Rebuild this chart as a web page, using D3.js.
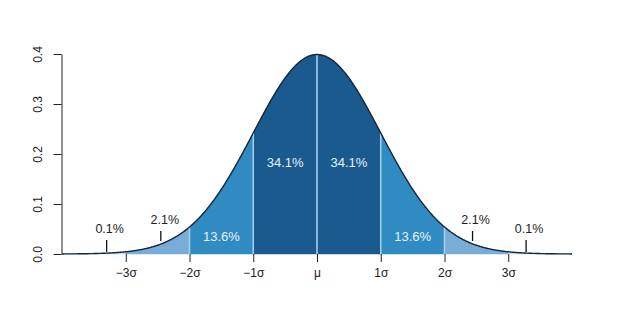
<!DOCTYPE html>
<html><head><meta charset="utf-8">
<script src="https://cdn.jsdelivr.net/npm/d3@7"></script>
<style>body{margin:0;background:#fff}svg{display:block;font-family:"Liberation Sans",Arial,sans-serif}</style>
</head><body>
<svg id="c" width="633" height="314"></svg>
<script>
// ---- data ----
const mean = 0, sd = 1;
const xTicks = [-3, -2, -1, 0, 1, 2, 3];
const xTickLabels = ["\u22123\u03c3", "\u22122\u03c3", "\u22121\u03c3", "\u03bc", "1\u03c3", "2\u03c3", "3\u03c3"];
const yTicks = [0.0, 0.1, 0.2, 0.3, 0.4];
const yTickLabels = ["0.0", "0.1", "0.2", "0.3", "0.4"];
const bandEdges = [-4, -3, -2, -1, 0, 1, 2, 3, 4];
const bandPercents = ["0.1%", "2.1%", "13.6%", "34.1%", "34.1%", "13.6%", "2.1%", "0.1%"];
const dividers = [-2, -1, 0, 1, 2];

// ---- style / layout ----
const bandColors = ["#c3dbef", "#79acd6", "#2f8bc1", "#1a5a8e", "#1a5a8e", "#2f8bc1", "#79acd6", "#c3dbef"];
const insideLabel = [false, false, true, true, true, true, false, false];
const pointerX = [-3.3, -2.45, null, null, null, null, 2.44, 3.28];
const pointerTop = [240, 231, null, null, null, null, 231, 240];
const pointerBottom = [252, 241, null, null, null, null, 241, 252];
const labelDx = [3, 4, 0, 0, 0, 0, 3, 3];
const insideY = [0, 0, 236, 162, 162, 236, 0, 0];

const svg = d3.select("#c");
const x = d3.scaleLinear().domain([-4, 4]).range([62, 572]);
const y = d3.scaleLinear().domain([0, 0.4]).range([254, 54]);
const pdf = v => Math.exp(-0.5 * ((v - mean) / sd) ** 2) / (sd * Math.sqrt(2 * Math.PI));

const area = d3.area().x(d => x(d)).y0(y(0)).y1(d => y(pdf(d))).curve(d3.curveLinear);
const line = d3.line().x(d => x(d)).y(d => y(pdf(d)));

const step = 0.01;
for (let i = 0; i < bandEdges.length - 1; i++) {
  const a = bandEdges[i], b = bandEdges[i + 1];
  const pts = d3.range(a, b, step).concat([b]);
  svg.append("path").attr("d", area(pts)).attr("fill", bandColors[i]).attr("stroke", bandColors[i]).attr("stroke-width", 0.5);
}
// dividers
svg.selectAll("line.div").data(dividers).join("line")
  .attr("x1", d => x(d)).attr("x2", d => x(d))
  .attr("y1", y(0)).attr("y2", d => y(pdf(d)))
  .attr("stroke", "#a8cfea").attr("stroke-width", 1.6);

// curve
svg.append("path").attr("d", line(d3.range(-4, 4, step).concat([4])))
  .attr("fill", "none").attr("stroke", "#16273a").attr("stroke-width", 1.4);

// labels
bandPercents.forEach((t, i) => {
  const a = bandEdges[i], b = bandEdges[i + 1];
  if (insideLabel[i]) {
    svg.append("text").attr("x", x((a + b) / 2)).attr("y", insideY[i]).attr("dy", "0.35em")
      .attr("text-anchor", "middle").attr("fill", "#e8f1f8").attr("font-size", 13).text(t);
  } else {
    const px = x(pointerX[i]);
    svg.append("line").attr("x1", px).attr("x2", px).attr("y1", pointerTop[i]).attr("y2", pointerBottom[i])
      .attr("stroke", "#111").attr("stroke-width", 1.3);
    svg.append("text").attr("x", px + labelDx[i]).attr("y", pointerTop[i] - 11).attr("dy", "0.35em")
      .attr("text-anchor", "middle").attr("fill", "#222").attr("font-size", 12.5).text(t);
  }
});

// x axis (ticks only)
const xa = svg.append("g").attr("transform", `translate(0,${y(0)})`)
  .call(d3.axisBottom(x).tickValues(xTicks).tickFormat((d, i) => xTickLabels[i]).tickSize(8).tickPadding(6));
xa.select(".domain").remove();
xa.selectAll("line").attr("stroke", "#222");
xa.selectAll("text").attr("font-size", 12).attr("fill", "#222").attr("font-family", "Liberation Sans, Arial, sans-serif");

// y axis
const ya = svg.append("g").attr("transform", "translate(61.5,0)")
  .call(d3.axisLeft(y).tickValues(yTicks).tickFormat((d, i) => yTickLabels[i]).tickSize(8).tickSizeOuter(0));
ya.select(".domain").attr("stroke", "#222");
ya.selectAll("line").attr("stroke", "#222");
ya.selectAll("text").attr("font-size", 12).attr("fill", "#222").attr("font-family", "Liberation Sans, Arial, sans-serif")
  .attr("text-anchor", "middle").attr("dy", null).attr("x", null)
  .attr("transform", "translate(-23,0) rotate(-90)").attr("dominant-baseline", "middle");
</script>
</body></html>
